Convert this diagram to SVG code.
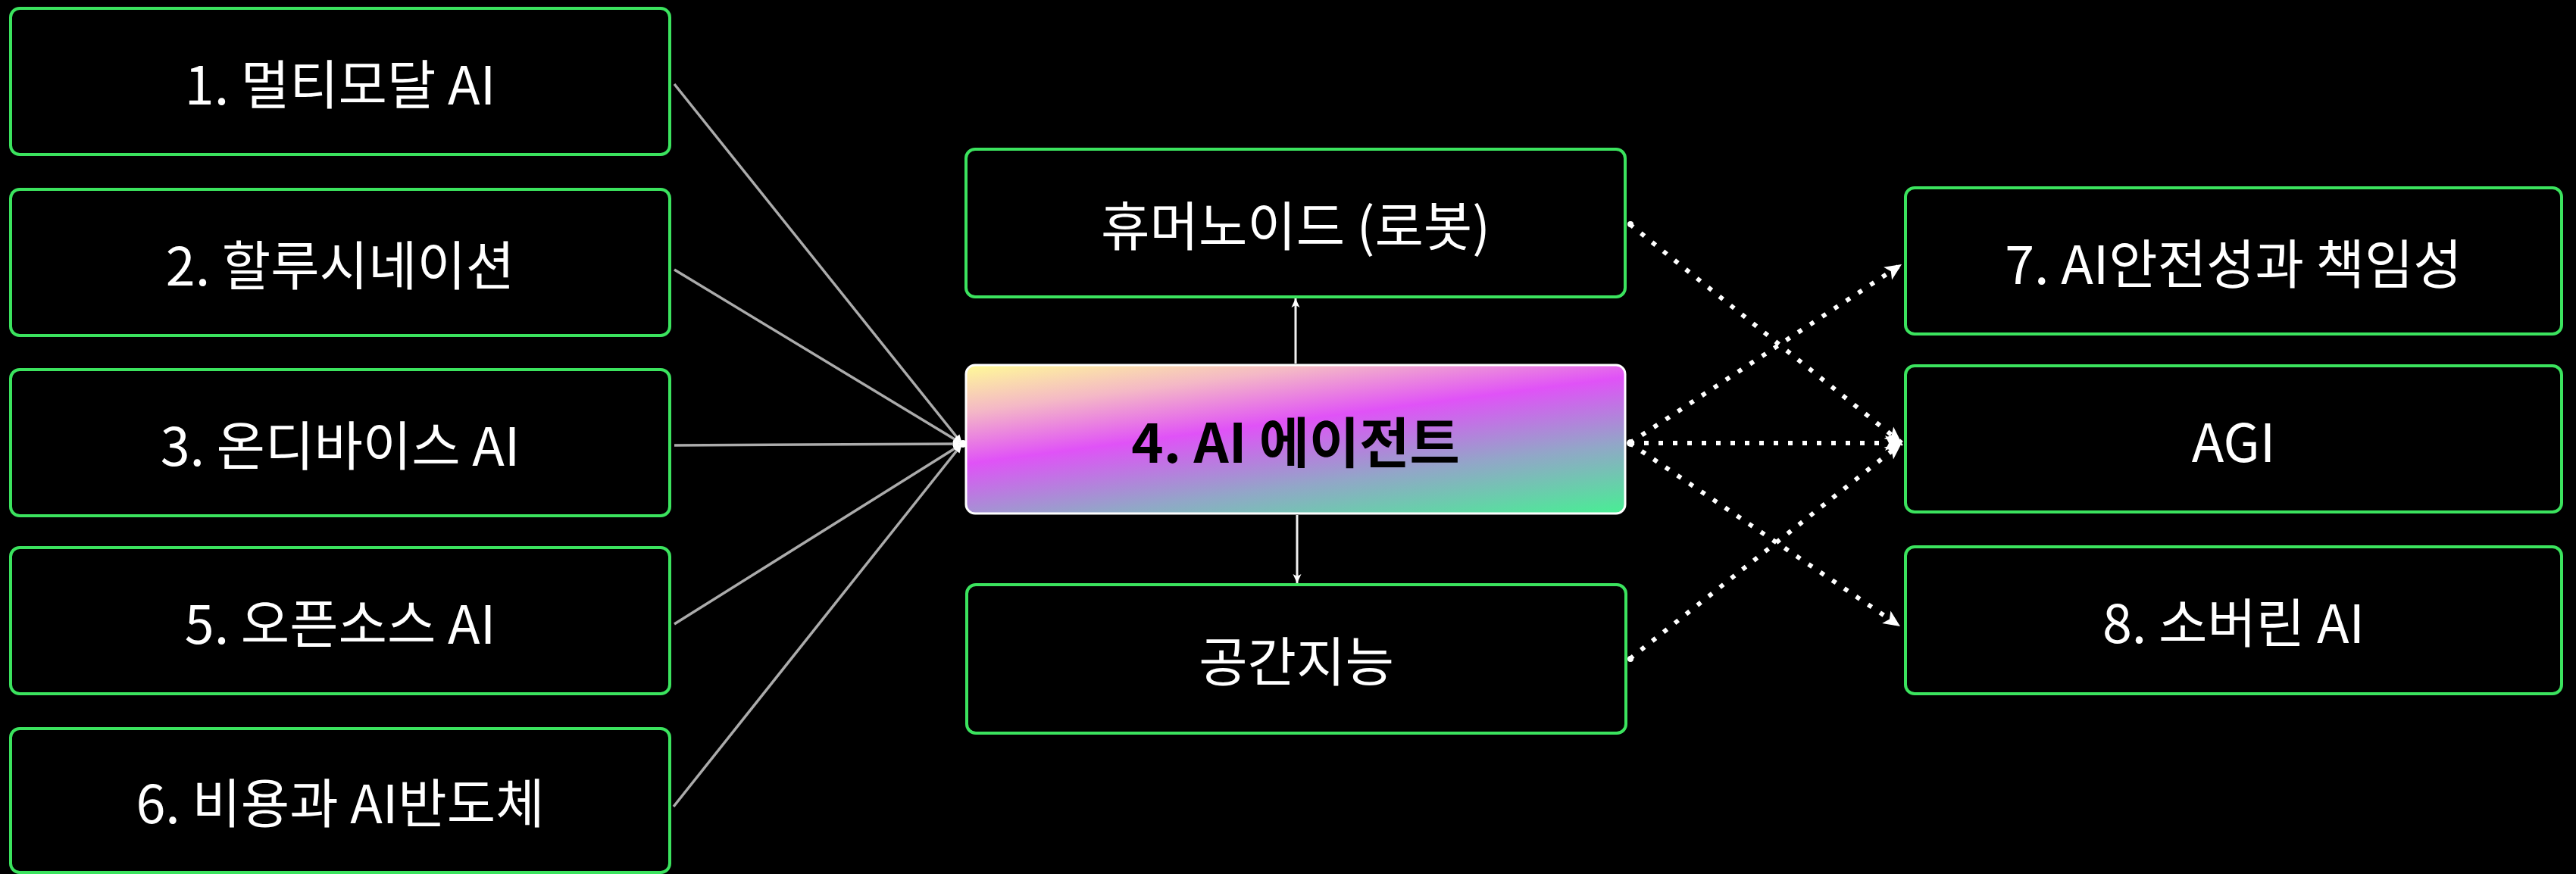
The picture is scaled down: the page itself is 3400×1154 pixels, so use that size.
<svg xmlns="http://www.w3.org/2000/svg" width="3400" height="1154" viewBox="0 0 3400 1154">
  <style>
    .box { fill: #000; stroke: #3be35e; stroke-width: 4; }
    .lbl { font-family: "Noto Sans CJK KR", "Noto Sans", sans-serif; font-size: 70px; fill: #fff; text-anchor: middle; }
    .main { font-family: "Noto Sans CJK KR", "Noto Sans", sans-serif; font-size: 72px; font-weight: bold; fill: #000; text-anchor: middle; }
    .solid { stroke: #ababab; stroke-width: 3.5; fill: none; }
    .vert { stroke: #f0f0f0; stroke-width: 3; fill: none; }
    .dot { stroke: #fff; stroke-width: 6; stroke-dasharray: 6 13; fill: none; }
  </style>
  <defs>
    <linearGradient id="agentGrad" gradientUnits="userSpaceOnUse" x1="1689" y1="428" x2="1729" y2="732">
      <stop offset="0" stop-color="#fffa98"/>
      <stop offset="0.2" stop-color="#f4b8c6"/>
      <stop offset="0.42" stop-color="#e052f7"/>
      <stop offset="0.7" stop-color="#92a6c8"/>
      <stop offset="1" stop-color="#48ee94"/>
    </linearGradient>
    <marker id="arrS" markerUnits="userSpaceOnUse" markerWidth="14" markerHeight="14" refX="12" refY="7" orient="auto">
      <path d="M0,2 L12,7 L0,12 Z" fill="#fff"/>
    </marker>
    <marker id="arrV" markerUnits="userSpaceOnUse" markerWidth="14" markerHeight="14" refX="12" refY="7" orient="auto">
      <path d="M0,1.5 L12,7 L0,12.5 L3,7 Z" fill="#fff"/>
    </marker>
    <marker id="arrD" markerUnits="userSpaceOnUse" markerWidth="24" markerHeight="22" refX="22" refY="11" orient="auto">
      <path d="M0,1 L22,11 L0,21 L5,11 Z" fill="#fff"/>
    </marker>
  </defs>
  <rect x="0" y="0" width="3400" height="1154" fill="#000"/>

  <g id="connectors">
    <line class="solid" x1="890" y1="111" x2="1270" y2="586" marker-end="url(#arrS)"/>
    <line class="solid" x1="890" y1="356" x2="1270" y2="586" marker-end="url(#arrS)"/>
    <line class="solid" x1="890" y1="588" x2="1270" y2="586" marker-end="url(#arrS)"/>
    <line class="solid" x1="890" y1="824" x2="1270" y2="586" marker-end="url(#arrS)"/>
    <line class="solid" x1="889" y1="1065" x2="1270" y2="586" marker-end="url(#arrS)"/>
    <line class="vert" x1="1710" y1="480" x2="1710" y2="394" marker-end="url(#arrV)"/>
    <line class="vert" x1="1712" y1="680" x2="1712" y2="770" marker-end="url(#arrV)"/>
    <line class="dot" x1="2151" y1="296" x2="2510" y2="585" marker-end="url(#arrD)"/>
    <line class="dot" x1="2151" y1="585" x2="2510" y2="349" marker-end="url(#arrD)"/>
    <line class="dot" x1="2151" y1="585" x2="2510" y2="585" marker-end="url(#arrD)"/>
    <line class="dot" x1="2151" y1="585" x2="2508" y2="827" marker-end="url(#arrD)"/>
    <line class="dot" x1="2151" y1="870" x2="2510" y2="585" marker-end="url(#arrD)"/>
    <circle cx="2152" cy="296" r="4" fill="#fff"/>
    <circle cx="2152" cy="585" r="5" fill="#fff"/>
    <circle cx="2152" cy="870" r="4" fill="#fff"/>
    <circle cx="1271" cy="586" r="5" fill="#fff"/>
  </g>

  <g id="n1">
    <rect class="box" x="14" y="11" width="870" height="193" rx="12"/>
    <text class="lbl" x="449" y="138">1. 멀티모달 AI</text>
  </g>
  <g id="n2">
    <rect class="box" x="14" y="250" width="870" height="193" rx="12"/>
    <text class="lbl" x="449" y="377">2. 할루시네이션</text>
  </g>
  <g id="n3">
    <rect class="box" x="14" y="488" width="870" height="193" rx="12"/>
    <text class="lbl" x="449" y="615">3. 온디바이스 AI</text>
  </g>
  <g id="n5">
    <rect class="box" x="14" y="723" width="870" height="193" rx="12"/>
    <text class="lbl" x="449" y="850">5. 오픈소스 AI</text>
  </g>
  <g id="n6">
    <rect class="box" x="14" y="962" width="870" height="190" rx="12"/>
    <text class="lbl" x="449" y="1087">6. 비용과 AI반도체</text>
  </g>

  <g id="humanoid">
    <rect class="box" x="1275" y="197" width="870" height="195" rx="12"/>
    <text class="lbl" x="1710" y="325">휴머노이드 (로봇)</text>
  </g>
  <g id="agent">
    <rect x="1275" y="482" width="870" height="196" rx="12" fill="url(#agentGrad)" stroke="#ffffff" stroke-width="3"/>
    <text class="main" x="1710" y="611">4. AI 에이전트</text>
  </g>
  <g id="spatial">
    <rect class="box" x="1276" y="772" width="870" height="196" rx="12"/>
    <text class="lbl" x="1711" y="900">공간지능</text>
  </g>

  <g id="n7">
    <rect class="box" x="2515" y="248" width="866" height="193" rx="12"/>
    <text class="lbl" x="2948" y="375">7. AI안전성과 책임성</text>
  </g>
  <g id="agi">
    <rect class="box" x="2515" y="483" width="866" height="193" rx="12"/>
    <text class="lbl" x="2948" y="610">AGI</text>
  </g>
  <g id="n8">
    <rect class="box" x="2515" y="722" width="866" height="194" rx="12"/>
    <text class="lbl" x="2948" y="849">8. 소버린 AI</text>
  </g>
</svg>
